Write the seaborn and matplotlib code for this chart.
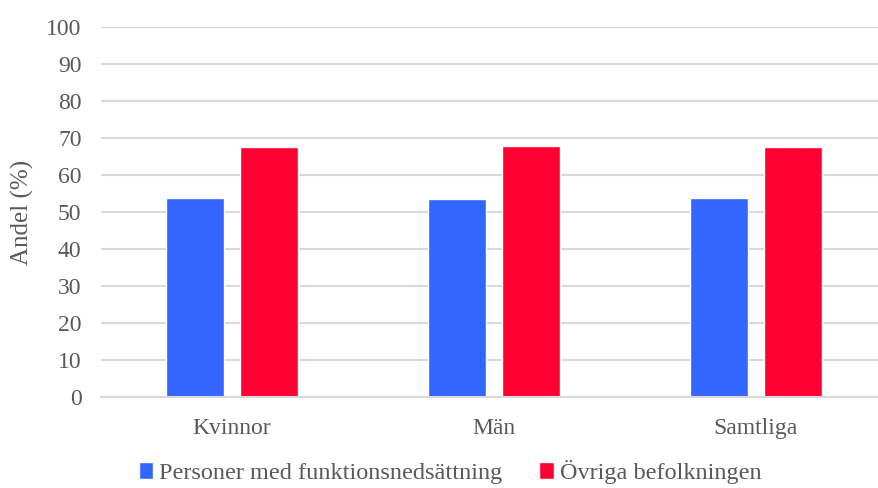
import matplotlib
matplotlib.use("Agg")
import matplotlib.pyplot as plt
import seaborn as sns
import pandas as pd

categories = ["Kvinnor", "Män", "Samtliga"]
series_names = ["Personer med funktionsnedsättning", "Övriga befolkningen"]
funk_values = [53.7, 53.6, 53.7]
ovriga_values = [67.5, 67.8, 67.6]
colors = ["#3366ff", "#ff0033"]

df = pd.DataFrame({
    "Grupp": categories * 2,
    "Serie": [series_names[0]] * 3 + [series_names[1]] * 3,
    "Andel": funk_values + ovriga_values,
})

sns.set_style("white")
plt.rcParams["font.family"] = ["Liberation Serif", "DejaVu Serif"]
text_color = "#595959"

fig = plt.figure(figsize=(8.79, 4.88), dpi=100)
ax = fig.add_axes([101 / 879, 1 - 397 / 488, 786 / 879, 370 / 488])

sns.barplot(
    data=df, x="Grupp", y="Andel", hue="Serie",
    palette=colors, width=0.57, gap=0.22, ax=ax,
    saturation=1, errorbar=None,
)

ax.set_ylim(0, 100)
ax.set_xlim(-0.5, 2.5)
ax.set_yticks(range(0, 101, 10))
ax.yaxis.grid(True, color="#d9d9d9", linewidth=1.5)
ax.set_axisbelow(True)
for s in ["top", "right", "left"]:
    ax.spines[s].set_visible(False)
ax.spines["bottom"].set_color("#d9d9d9")
ax.spines["bottom"].set_linewidth(1.5)
ax.tick_params(axis="both", length=0, labelsize=17, colors=text_color)
ax.tick_params(axis="y", pad=14)
ax.tick_params(axis="x", pad=15)
ax.set_xlabel("")
ax.set_ylabel("Andel (%)", fontsize=18, color=text_color, labelpad=9)

handles, labels = ax.get_legend_handles_labels()
ax.legend_.remove()
fig.legend(
    handles, labels, loc="lower center", bbox_to_anchor=(0.512, -0.036),
    ncol=2, frameon=False,
    prop={"family": "Liberation Serif", "size": 17.5},
    handlelength=0.6, handleheight=0.7,
    handletextpad=0.25, columnspacing=1.5, labelcolor=text_color,
)

fig.savefig("out.png", dpi=100)
